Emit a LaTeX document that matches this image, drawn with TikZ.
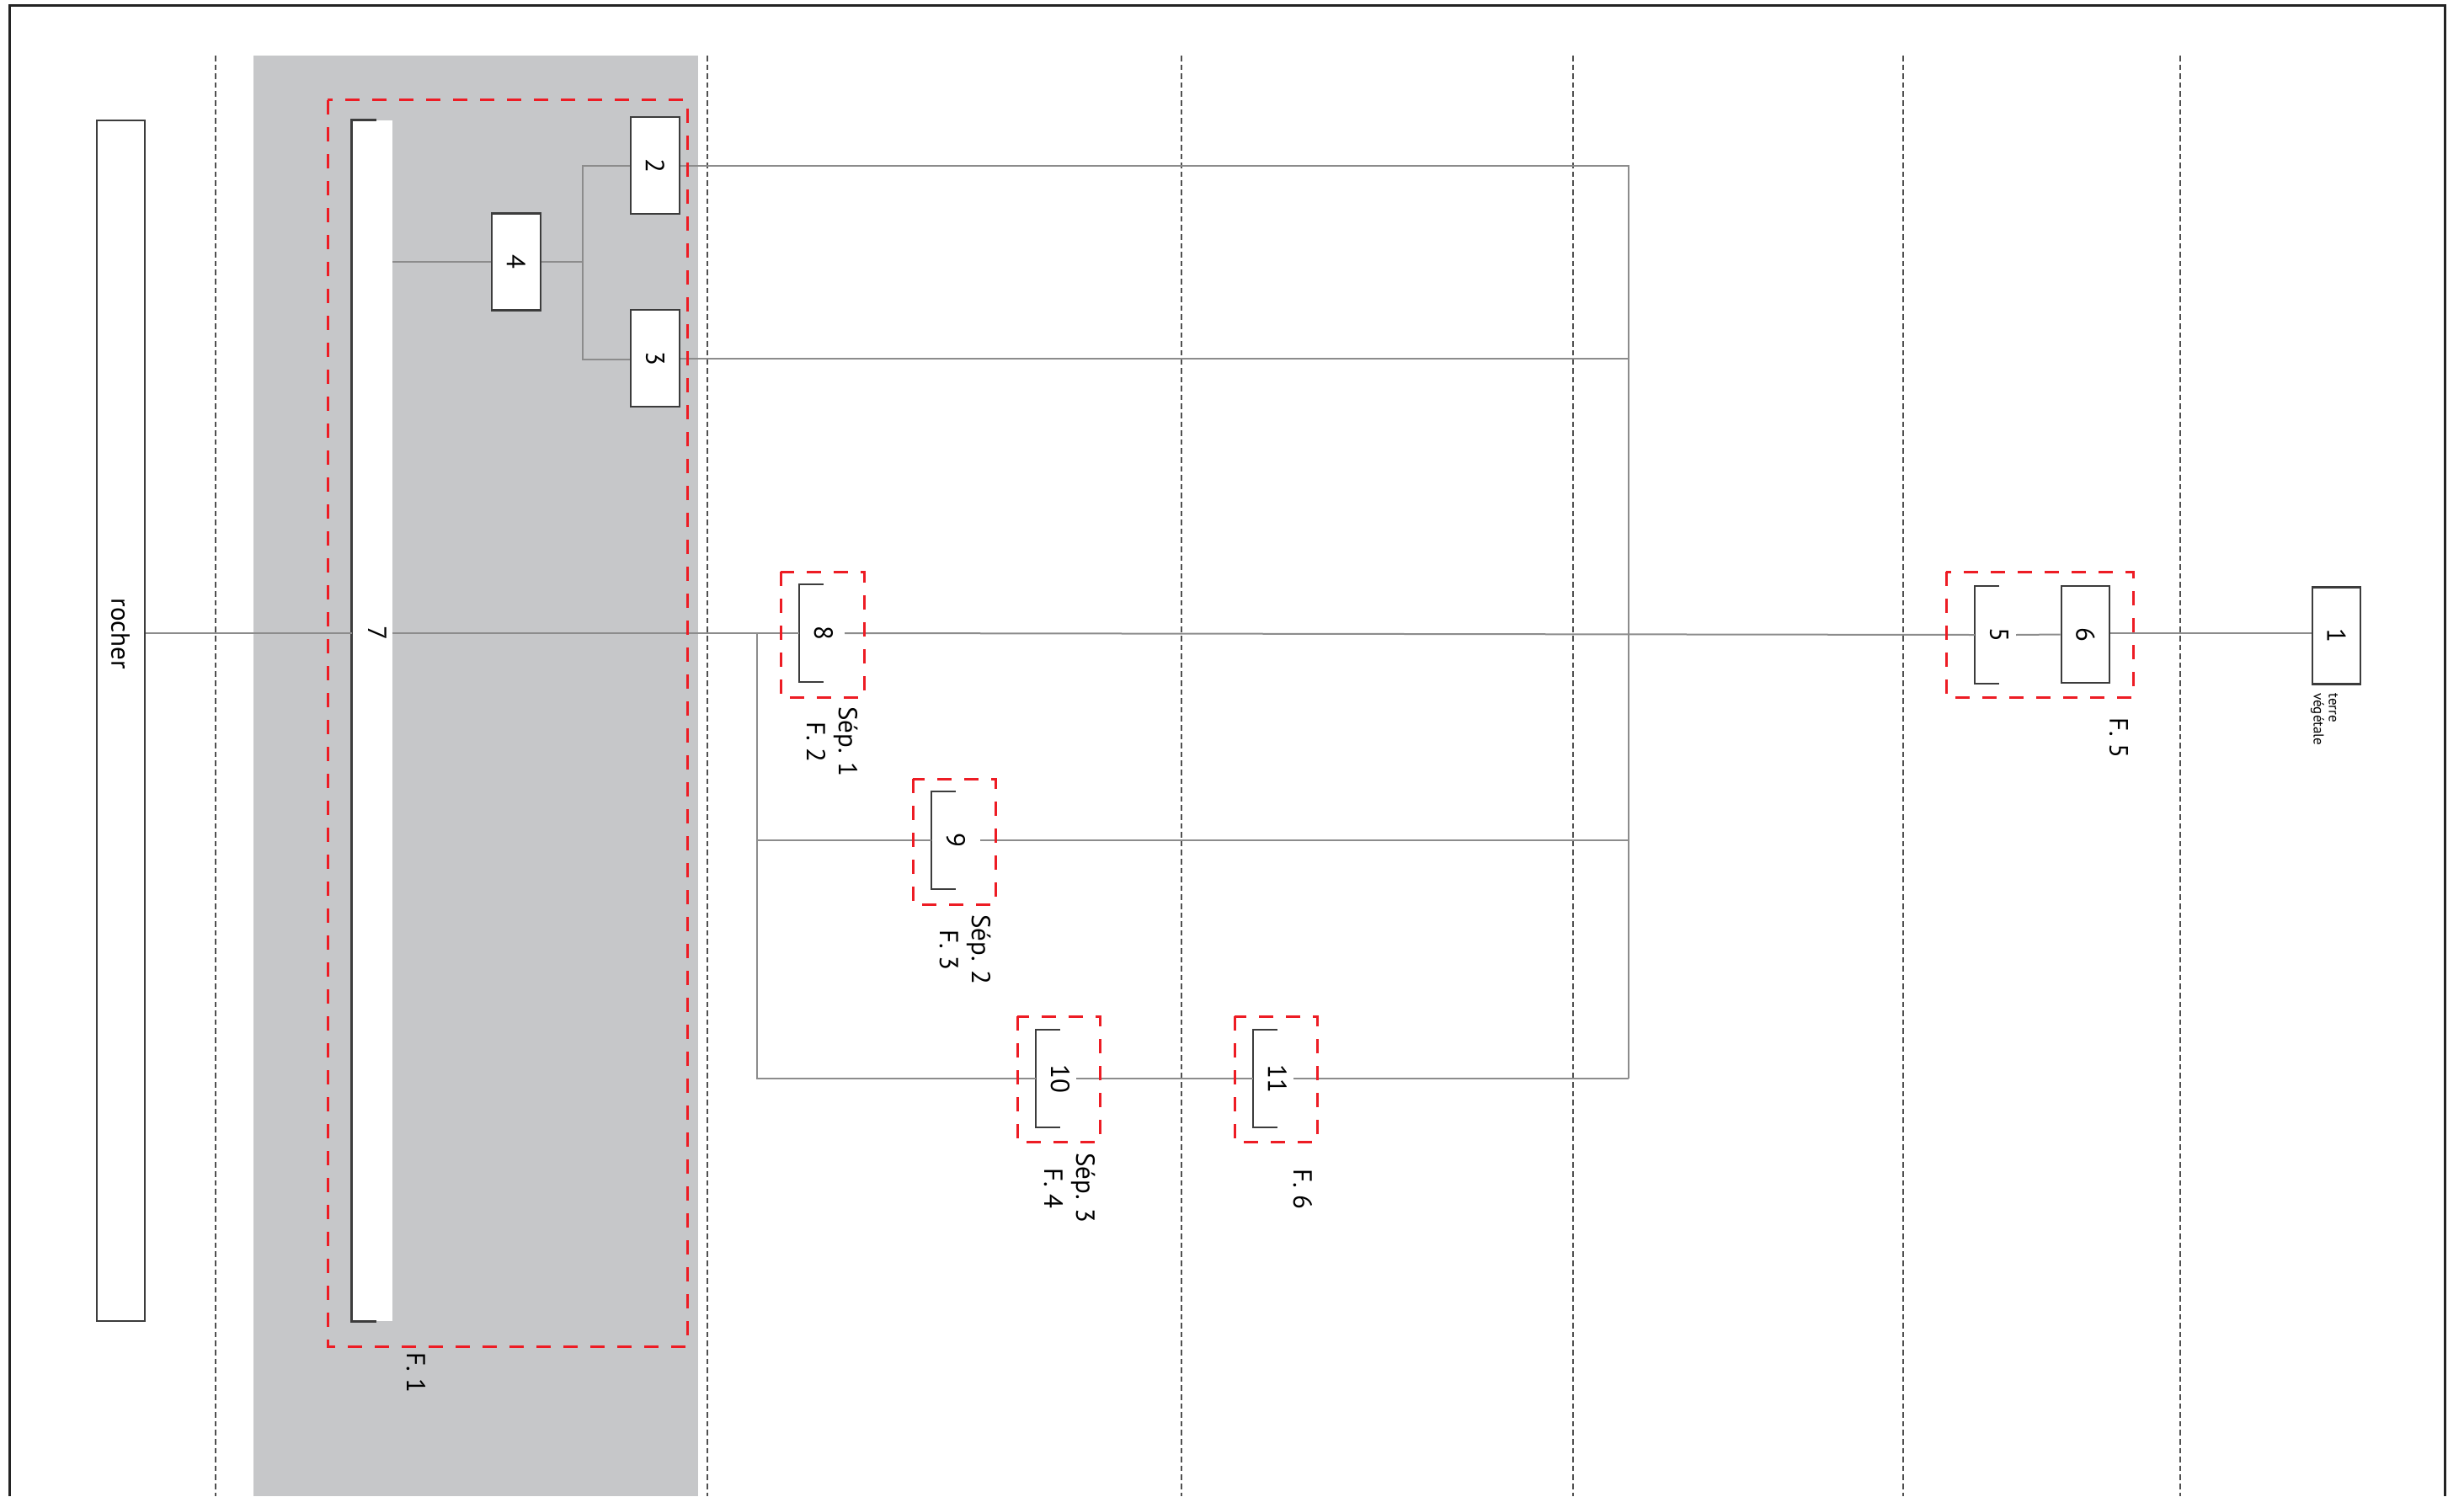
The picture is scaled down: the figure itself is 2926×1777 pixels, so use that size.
\documentclass[tikz,border=0pt]{standalone}
\usepackage{fontspec}
\usepackage{graphicx}
\setmainfont{PT Sans}
\usetikzlibrary{calc}
\definecolor{zoneGray}{RGB}{198,199,201}
\definecolor{connGray}{RGB}{140,140,140}
\definecolor{boxDark}{RGB}{60,60,60}
\definecolor{guideGray}{RGB}{80,80,80}
\definecolor{redF}{RGB}{237,28,36}
\definecolor{frameDark}{RGB}{35,35,35}
\newcommand{\rotnum}[1]{\rotatebox{-90}{#1}}
\tikzset{
  conn/.style={draw=connGray, line width=1pt},
  boxline/.style={draw=boxDark, line width=1.2pt},
  boxst/.style={draw=boxDark, line width=1.2pt, fill=white, minimum width=28.75pt, minimum height=57.5pt, inner sep=0pt, font=\fontsize{15.5}{19}\selectfont},
  brk/.style={minimum width=28.75pt, minimum height=57.5pt, inner sep=0pt, font=\fontsize{15.5}{19}\selectfont},
  redbox/.style={draw=redF, line width=1.5pt, dash pattern=on 8.5pt off 7.5pt},
  guide/.style={draw=guideGray, line width=1pt, dash pattern=on 3.3pt off 2pt},
  lbl/.style={rotate=-90, align=center, inner sep=0pt, font=\fontsize{15.5}{19}\selectfont},
  smalllbl/.style={rotate=-90, align=left, inner sep=0pt, font=\fontsize{8.5}{9}\selectfont}
}
\begin{document}
\begin{tikzpicture}[x=0.5pt,y=-0.5pt]
\useasboundingbox (0,0) rectangle (2926,1777);
\fill[white] (0,0) rectangle (2926,1777);
% grey zone
\fill[zoneGray] (301,66) rectangle (829,1777);
% guides
\foreach \gx in {256,840,1403,1868,2260,2589}
  \draw[guide] (\gx,66) -- (\gx,1777);

% rocher
\node[boxst, minimum width=28.75pt, minimum height=713pt] (rocherbox) at (143.5,856) {};
\node[lbl] (rocher) at (143,753) {rocher};

% bar 7
\node[fill=white, minimum width=24pt, minimum height=713pt, inner sep=0pt] (bar7) at (442,856) {};
\draw[boxline] ([xshift=14.5pt]bar7.north west) -- (bar7.north west) -- (bar7.south west) -- ([xshift=14.5pt]bar7.south west);
\node[lbl] (t7) at (448,752) {7};

% boxes 4, 2, 3
\node[boxst] (b4) at (613,311) {\rotnum{4}};
\node[boxst] (b2) at (778,196.5) {\rotnum{2}};
\node[boxst] (b3) at (778,425.5) {\rotnum{3}};

% brackets
\node[brk] (b8) at (978,752) {\rotnum{8}};
\node[brk] (b9) at (1135,998) {\rotnum{9}};
\node[brk] (b10) at (1259,1281) {\rotnum{10}};
\node[brk] (b11) at (1517,1281) {\rotnum{11}};
\node[brk] (b5) at (2374,754) {\rotnum{5}};
\foreach \b in {b8,b9,b10,b11,b5}
  \draw[boxline] (\b.north) -- (\b.north west) -- (\b.south west) -- (\b.south);

% boxes 6, 1
\node[boxst] (b6) at (2476.5,753.5) {\rotnum{6}};
\node[boxst] (b1) at (2774.5,755) {\rotnum{1}};

% junctions
\coordinate (j1) at (692,311);
\coordinate (lt) at (899,752);
\coordinate (trk) at (1934,1281);

% connectors
\draw[conn] (rocherbox.east |- t7) -- (bar7.west |- t7);
\draw[conn] (bar7.east |- t7) -- (b8.west);
\draw[conn] (bar7.east |- b4) -- (b4.west);
\draw[conn] (b4.east) -- (j1);
\draw[conn] (b2.west) -| (j1) |- ([yshift=-0.75pt]b3.west);
\draw[conn] (b2.east) -- (b2.east -| trk) -- (trk);
\draw[conn] (b3.east) -- (b3.east -| trk);
\draw[conn] (lt) |- (b10.west);
\draw[conn] (lt |- b9) -- (b9.west);
\draw[conn] ([xshift=12.5pt]b8.center) -- (b5.west);
\draw[conn] ([xshift=14.5pt]b9.center) -- (b9.center -| trk);
\draw[conn] ([xshift=9.5pt]b10.center) -- (b11.west);
\draw[conn] ([xshift=9.5pt]b11.center) -- (trk);
\draw[conn] ([xshift=10pt]b5.center) -- (b6.west);
\draw[conn] (b6.east |- lt) -- (b1.west |- lt);

% red dashed groups
\draw[redbox] (389,119) rectangle (816,1599);
\draw[redbox] (927,679) rectangle (1026,828);
\draw[redbox] (1084,925) rectangle (1182,1074);
\draw[redbox] (1208,1207) rectangle (1306,1356);
\draw[redbox] (1466,1207) rectangle (1564,1356);
\draw[redbox] (2311,679) rectangle (2533,828);

% labels
\node[lbl] (lF1) at (494,1630) {F. 1};
\node[lbl] (lF2) at (988,881) {Sép. 1\\F. 2};
\node[lbl] (lF3) at (1146,1128) {Sép. 2\\F. 3};
\node[lbl] (lF4) at (1270,1411) {Sép. 3\\F. 4};
\node[lbl] (lF6) at (1547,1412) {F. 6};
\node[lbl] (lF5) at (2516,876) {F. 5};
\node[smalllbl, anchor=west] (lterre) at (2760,823) {terre\\végétale};

% frame
\draw[draw=frameDark, line width=1.5pt] (11,1777) -- (11,7) -- (2903,7) -- (2903,1777);
\end{tikzpicture}
\end{document}
